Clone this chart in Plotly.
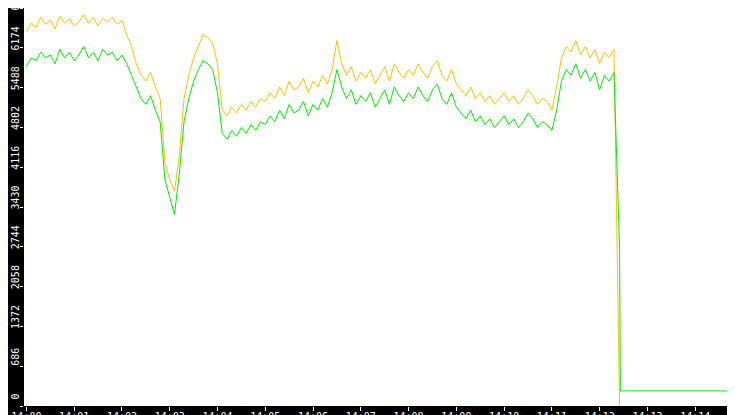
import pandas as pd
import plotly.graph_objects as go

# samples every 6 s from 14:00:00, then the drop
orange = [6450, 6600, 6520, 6700, 6580, 6650, 6500, 6720, 6600, 6680, 6550,
          6620, 6750, 6600, 6700, 6550, 6680, 6620, 6700, 6580, 6650,
          6400, 6200, 5900, 5700, 5600, 5750, 5500, 5300, 4200, 3900,
          3700, 4300, 5300, 5700, 6000, 6200, 6400, 6350, 6250, 5900,
          5100, 5000, 5150, 5050, 5200, 5100, 5250, 5150, 5300, 5250,
          5400, 5300, 5500, 5350, 5600, 5450, 5500, 5650, 5400, 5600,
          5500, 5700, 5550, 5800, 6300, 5900, 5700, 5850, 5600, 5750,
          5650, 5800, 5550, 5700, 5850, 5600, 5900, 5750, 5650, 5800,
          5700, 5900, 5750, 5650, 5850, 5950, 5700, 5600, 5800, 5550,
          5450, 5350, 5500, 5300, 5400, 5250, 5350, 5200, 5300, 5400,
          5250, 5350, 5200, 5300, 5450, 5350, 5200, 5300, 5250, 5100,
          5500, 6000, 6200, 6100, 6300, 6050, 6200, 6000, 6150, 5900,
          6100, 6000, 6150]
green = [5850, 6000, 5950, 6100, 6000, 6050, 5900, 6150, 6000, 6100, 5950,
         6050, 6200, 6000, 6100, 5950, 6150, 6050, 6100, 5950, 6050,
         5900, 5700, 5500, 5300, 5200, 5350, 5100, 4900, 3900, 3600,
         3300, 4000, 4900, 5300, 5600, 5800, 5950, 5900, 5800, 5400,
         4700, 4600, 4750, 4650, 4800, 4700, 4850, 4750, 4900, 4850,
         5000, 4900, 5100, 4950, 5200, 5050, 5100, 5250, 5000, 5200,
         5100, 5300, 5150, 5400, 5800, 5500, 5300, 5450, 5200, 5350,
         5250, 5400, 5150, 5300, 5450, 5200, 5500, 5350, 5250, 5400,
         5300, 5500, 5350, 5250, 5450, 5550, 5300, 5200, 5400, 5150,
         5050, 4950, 5100, 4900, 5000, 4850, 4950, 4800, 4900, 5000,
         4850, 4950, 4800, 4900, 5050, 4950, 4800, 4900, 4850, 4750,
         5100, 5600, 5800, 5700, 5900, 5650, 5800, 5600, 5750, 5450,
         5700, 5600, 5750]
orange_tail = [0]
green_tail = [2700, 260, 260]
tail_times = ["2024-01-01 14:12:25", "2024-01-01 14:12:26", "2024-01-01 14:15:00"]

ytick_vals = [0, 686, 1372, 2058, 2744, 3430, 4116, 4802, 5488, 6174, 6861]

times = list(pd.date_range("2024-01-01 14:00:00", periods=len(orange), freq="6s"))
tail = list(pd.to_datetime(tail_times))

fig = go.Figure()
fig.add_trace(go.Scatter(x=times + tail[:1], y=orange + orange_tail, mode="lines",
                         line=dict(color="#ffc000", width=1)))
fig.add_trace(go.Scatter(x=times + tail, y=green + green_tail, mode="lines",
                         line=dict(color="#00ee00", width=1)))

fig.update_layout(
    width=735, height=415, showlegend=False,
    margin=dict(l=16, r=0, t=0, b=17),
    paper_bgcolor="black", plot_bgcolor="white",
    font=dict(family="DejaVu Sans Mono", size=10, color="white"),
)
fig.update_xaxes(range=["2024-01-01 13:59:57", "2024-01-01 14:15:00"],
                 dtick=60000, tickformat="%H:%M", ticks="outside", ticklen=4,
                 tickcolor="white", showgrid=False, zeroline=False,
                 automargin=False, ticklabelstandoff=-3)
fig.update_yaxes(range=[0, 6861], tickvals=ytick_vals,
                 ticktext=[str(v) for v in ytick_vals], tickangle=-90,
                 ticks="outside", ticklen=3, tickcolor="white",
                 showgrid=False, zeroline=False, automargin=False,
                 ticklabelstandoff=-3, ticklabelshift=-8,
                 ticklabeloverflow="allow")

fig.write_html("out.html")
